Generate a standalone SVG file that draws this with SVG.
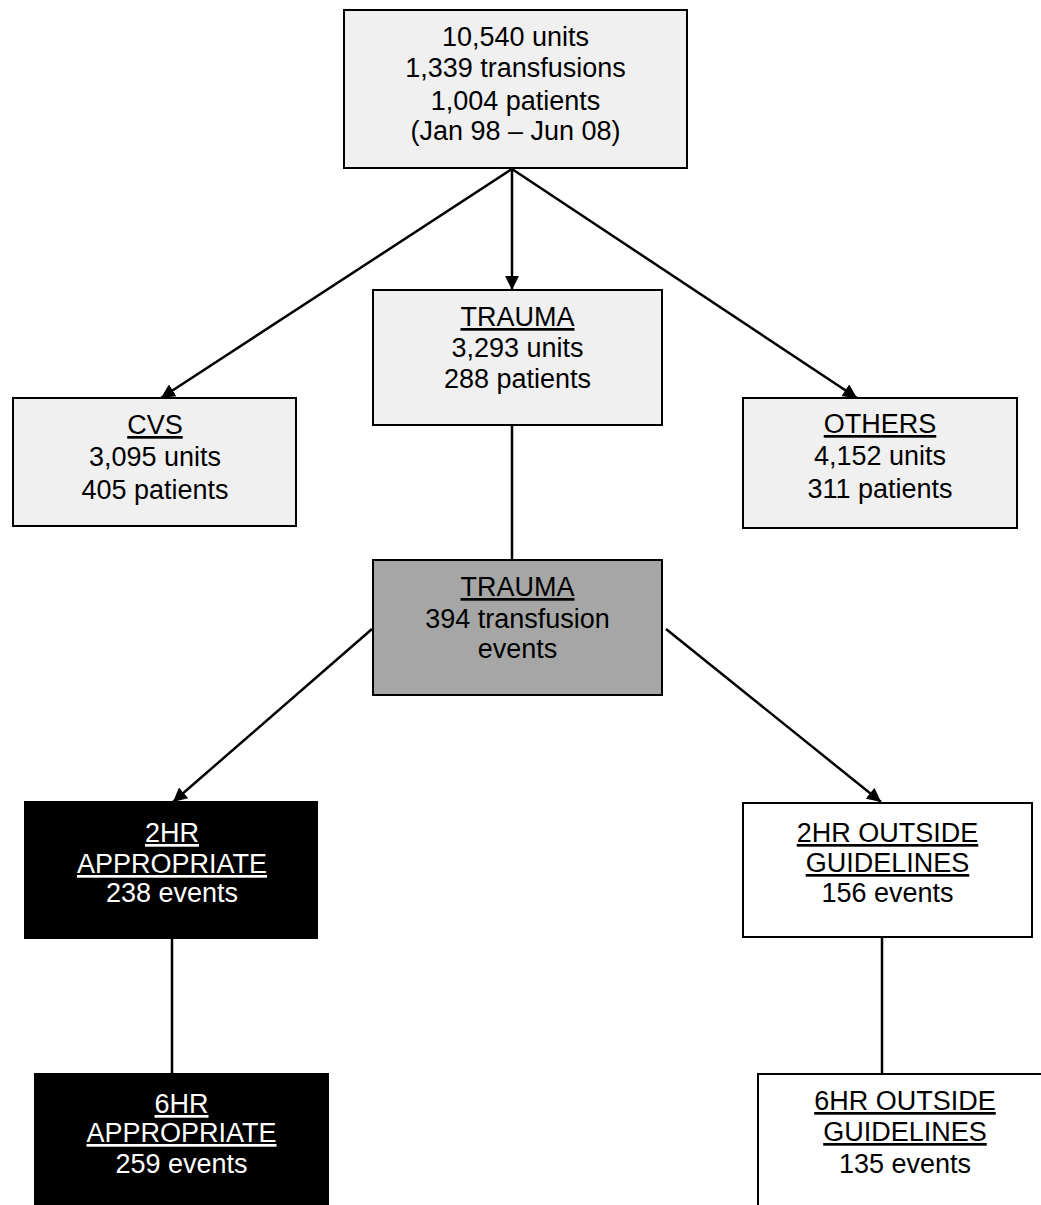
<svg xmlns="http://www.w3.org/2000/svg" width="1041" height="1205" viewBox="0 0 1041 1205">
  <style>
    .box { stroke: #000; stroke-width: 2; }
    .light { fill: #f0f0f0; }
    .mid { fill: #a6a6a6; }
    .dark { fill: #000; }
    .plain { fill: #fff; }
    text { font-family: "Liberation Sans", Arial, sans-serif; font-size: 27px; text-anchor: middle; fill: #000; }
    .inv { fill: #fff; }
    .u { text-decoration: underline; }
    .link { stroke: #000; stroke-width: 2.5; fill: none; }
  </style>
  <defs>
    <marker id="arrow" viewBox="0 0 14 14" refX="14" refY="7" markerWidth="14" markerHeight="14" markerUnits="userSpaceOnUse" orient="auto">
      <path d="M0,0 L14,7 L0,14 z" fill="#000"/>
    </marker>
  </defs>

  <!-- connectors -->
  <g id="connectors">
    <line class="link" x1="512" y1="169" x2="161" y2="398" marker-end="url(#arrow)"/>
    <line class="link" x1="512" y1="169" x2="512" y2="290" marker-end="url(#arrow)"/>
    <line class="link" x1="512" y1="169" x2="857" y2="398" marker-end="url(#arrow)"/>
    <line class="link" x1="512" y1="425" x2="512" y2="560" stroke-width="2"/>
    <line class="link" x1="372" y1="629" x2="173" y2="802" marker-end="url(#arrow)"/>
    <line class="link" x1="666" y1="629" x2="881" y2="802" marker-end="url(#arrow)"/>
    <line class="link" x1="172" y1="938" x2="172" y2="1074" stroke-width="2"/>
    <line class="link" x1="882" y1="937" x2="882" y2="1074" stroke-width="2"/>
  </g>

  <!-- all transfusions -->
  <g id="node-total">
    <rect class="box light" x="344" y="10" width="343" height="158"/>
    <text x="515.5" y="46">10,540 units</text>
    <text x="515.5" y="77">1,339 transfusions</text>
    <text x="515.5" y="110">1,004 patients</text>
    <text x="515.5" y="140">(Jan 98 – Jun 08)</text>
  </g>

  <g id="node-cvs">
    <rect class="box light" x="13" y="398" width="283" height="128"/>
    <text x="155" y="434" class="u">CVS</text>
    <text x="155" y="466">3,095 units</text>
    <text x="155" y="499">405 patients</text>
  </g>

  <g id="node-trauma">
    <rect class="box light" x="373" y="290" width="289" height="135"/>
    <text x="517.5" y="326" class="u">TRAUMA</text>
    <text x="517.5" y="357">3,293 units</text>
    <text x="517.5" y="388">288 patients</text>
  </g>

  <g id="node-others">
    <rect class="box light" x="743" y="398" width="274" height="130"/>
    <text x="880" y="433" class="u">OTHERS</text>
    <text x="880" y="465">4,152 units</text>
    <text x="880" y="498">311 patients</text>
  </g>

  <g id="node-trauma-events">
    <rect class="box mid" x="373" y="560" width="289" height="135"/>
    <text x="517.5" y="596" class="u">TRAUMA</text>
    <text x="517.5" y="628">394 transfusion</text>
    <text x="517.5" y="658">events</text>
  </g>

  <g id="node-2hr-appropriate">
    <rect class="box dark" x="25" y="802" width="292" height="136"/>
    <text x="172" y="842" class="inv u">2HR</text>
    <text x="172" y="873" class="inv u">APPROPRIATE</text>
    <text x="172" y="902" class="inv">238 events</text>
  </g>

  <g id="node-2hr-outside">
    <rect class="box plain" x="743" y="803" width="289" height="134"/>
    <text x="887.5" y="842" class="u">2HR OUTSIDE</text>
    <text x="887.5" y="872" class="u">GUIDELINES</text>
    <text x="887.5" y="902">156 events</text>
  </g>

  <g id="node-6hr-appropriate">
    <rect class="box dark" x="35" y="1074" width="293" height="140"/>
    <text x="181.5" y="1113" class="inv u">6HR</text>
    <text x="181.5" y="1142" class="inv u">APPROPRIATE</text>
    <text x="181.5" y="1173" class="inv">259 events</text>
  </g>

  <g id="node-6hr-outside">
    <rect class="box plain" x="758" y="1074" width="294" height="140"/>
    <text x="905" y="1110" class="u">6HR OUTSIDE</text>
    <text x="905" y="1141" class="u">GUIDELINES</text>
    <text x="905" y="1173">135 events</text>
  </g>
</svg>
